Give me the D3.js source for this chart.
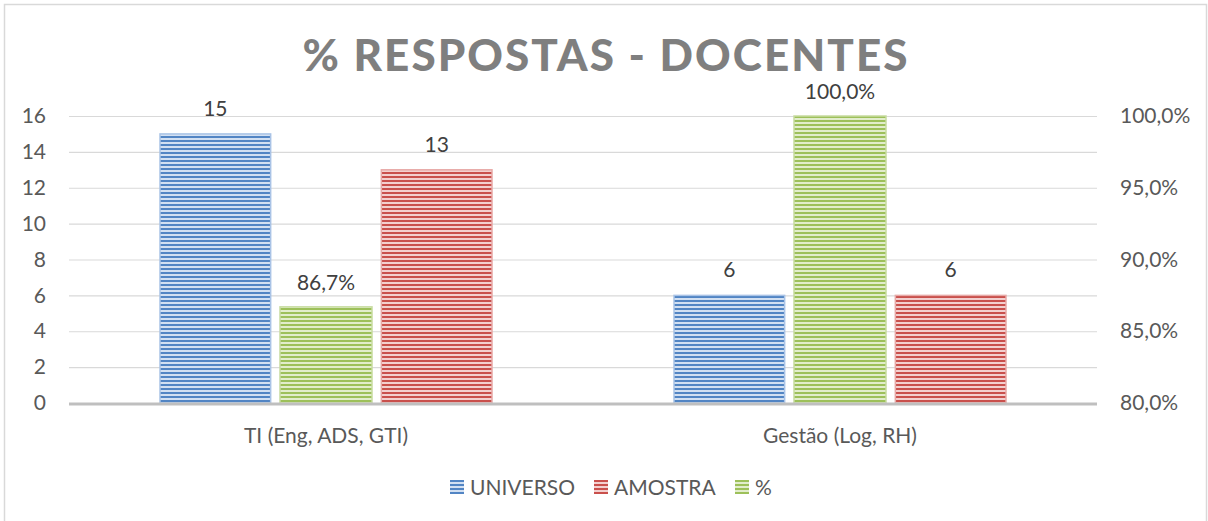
<!DOCTYPE html>
<html>
<head>
<meta charset="utf-8">
<script src="https://cdn.jsdelivr.net/npm/d3@7"></script>
<style>
  body { margin: 0; background: #fff; }
  text { font-family: Lato, "Open Sans", sans-serif; }
</style>
</head>
<body>
<div class="canva"></div>
<script>
// data
const categories = ["TI (Eng, ADS, GTI)", "Gestão (Log, RH)"];
const universo = [15, 6];
const amostra = [13, 6];
const percent = [0.867, 1.0];
const leftTicks = [0, 2, 4, 6, 8, 10, 12, 14, 16];
const rightTicks = [0.80, 0.85, 0.90, 0.95, 1.00];

const W = 1208, H = 521;
const FS = 21;
const svg = d3.select(".canva").append("svg")
  .attr("width", W).attr("height", H);

// striped fills
const fills = [
  {id: "blue", dark: "#5285c4", light: "#d2e0f2"},
  {id: "red", dark: "#c9504c", light: "#f3d0cf"},
  {id: "green", dark: "#9dc05a", light: "#e2edcc"}
];
const defs = svg.append("defs");
fills.forEach(f => {
  const p = defs.append("pattern").attr("id", "pat-" + f.id)
    .attr("patternUnits", "userSpaceOnUse").attr("width", 8).attr("height", 4);
  p.append("rect").attr("width", 8).attr("height", 4).attr("fill", f.light);
  p.append("rect").attr("width", 8).attr("height", 2).attr("fill", f.dark);
});

// outer border
svg.append("rect").attr("x", 4.5).attr("y", 4.5)
  .attr("width", W - 6).attr("height", H + 10)
  .attr("fill", "none").attr("stroke", "#d9d9d9").attr("stroke-width", 1.5);

const plotL = 69, plotR = 1097, plotT = 116, plotB = 403;

const x0 = d3.scaleBand().domain(categories).range([plotL, plotR]);
const x1 = d3.scaleBand().domain(["UNIVERSO", "AMOSTRA"])
  .range([91, 423]).paddingInner(0.5);
const x2 = d3.scaleBand().domain(["%"]).range([211, 303]);
const yL = d3.scaleLinear().domain([0, 16]).range([plotB, plotT]);
const yR = d3.scaleLinear().domain([0.8, 1.0]).range([plotB, plotT]);

// gridlines
svg.append("g").selectAll("line").data(leftTicks.slice(1)).join("line")
  .attr("x1", plotL).attr("x2", plotR)
  .attr("y1", d => yL(d) + 0.5).attr("y2", d => yL(d) + 0.5)
  .attr("stroke", "#d9d9d9").attr("stroke-width", 1.2);

// left axis
const axL = svg.append("g").attr("transform", `translate(${plotL},0)`)
  .call(d3.axisLeft(yL).tickValues(leftTicks).tickSize(0).tickPadding(23));
axL.select(".domain").remove();
axL.selectAll("text").attr("font-size", FS).attr("fill", "#595959")
  .attr("font-family", "Lato, sans-serif");

// right axis
const fmtPct = v => (v * 100).toFixed(1).replace(".", ",") + "%";
const axR = svg.append("g").attr("transform", `translate(${plotR},0)`)
  .call(d3.axisRight(yR).tickValues(rightTicks).tickFormat(fmtPct).tickSize(0).tickPadding(23));
axR.select(".domain").remove();
axR.selectAll("text").attr("font-size", FS).attr("fill", "#595959")
  .attr("font-family", "Lato, sans-serif");

// bars
const series = [
  {name: "UNIVERSO", values: universo, fill: "blue"},
  {name: "AMOSTRA", values: amostra, fill: "red"}
];
series.forEach(s => {
  const g = svg.append("g");
  g.selectAll("rect").data(s.values).join("rect")
    .attr("x", (d, i) => x0(categories[i]) + x1(s.name))
    .attr("y", d => yL(d))
    .attr("width", x1.bandwidth())
    .attr("height", d => yL(0) - yL(d))
    .attr("fill", `url(#pat-${s.fill})`)
    .attr("stroke", s.fill == "blue" ? "#a9c3e6" : "#e7a9a7").attr("stroke-width", 1.5);
  g.selectAll("text").data(s.values).join("text")
    .attr("x", (d, i) => x0(categories[i]) + x1(s.name) + x1.bandwidth() / 2)
    .attr("y", d => yL(d) - 18)
    .attr("text-anchor", "middle").attr("font-size", FS).attr("fill", "#404040")
    .text(d => d);
});

const gP = svg.append("g");
gP.selectAll("rect").data(percent).join("rect")
  .attr("x", (d, i) => x0(categories[i]) + x2("%"))
  .attr("y", d => yR(d))
  .attr("width", x2.bandwidth())
  .attr("height", d => yR(0.8) - yR(d))
  .attr("fill", "url(#pat-green)")
  .attr("stroke", "#c7dca0").attr("stroke-width", 1.5);
gP.selectAll("text").data(percent).join("text")
  .attr("x", (d, i) => x0(categories[i]) + x2("%") + x2.bandwidth() / 2)
  .attr("y", d => yR(d) - 17)
  .attr("text-anchor", "middle").attr("font-size", FS).attr("fill", "#404040")
  .text(fmtPct);

// baseline
svg.append("line").attr("x1", plotL).attr("x2", plotR)
  .attr("y1", plotB + 1).attr("y2", plotB + 1)
  .attr("stroke", "#bfbfbf").attr("stroke-width", 3);

// category labels
svg.append("g").selectAll("text").data(categories).join("text")
  .attr("x", d => x0(d) + x0.bandwidth() / 2)
  .attr("y", 443)
  .attr("text-anchor", "middle").attr("font-size", FS).attr("fill", "#595959")
  .text(d => d);

// title
svg.append("text").attr("x", 605).attr("y", 71)
  .attr("text-anchor", "middle").attr("font-size", 44).attr("font-weight", "900")
  .attr("fill", "#7f7f7f")
  .attr("textLength", 605).attr("lengthAdjust", "spacing")
  .text("% RESPOSTAS - DOCENTES");

// legend
const legend = [
  {name: "UNIVERSO", fill: "blue", x: 450},
  {name: "AMOSTRA", fill: "red", x: 594},
  {name: "%", fill: "green", x: 735}
];
const lg = svg.append("g").selectAll("g").data(legend).join("g")
  .attr("transform", d => `translate(${d.x},480)`);
lg.append("rect").attr("width", 14).attr("height", 14)
  .attr("fill", d => `url(#pat-${d.fill})`);
lg.append("text").attr("x", 20).attr("y", 15)
  .attr("font-size", FS).attr("fill", "#595959")
  .text(d => d.name);
</script>
</body>
</html>
